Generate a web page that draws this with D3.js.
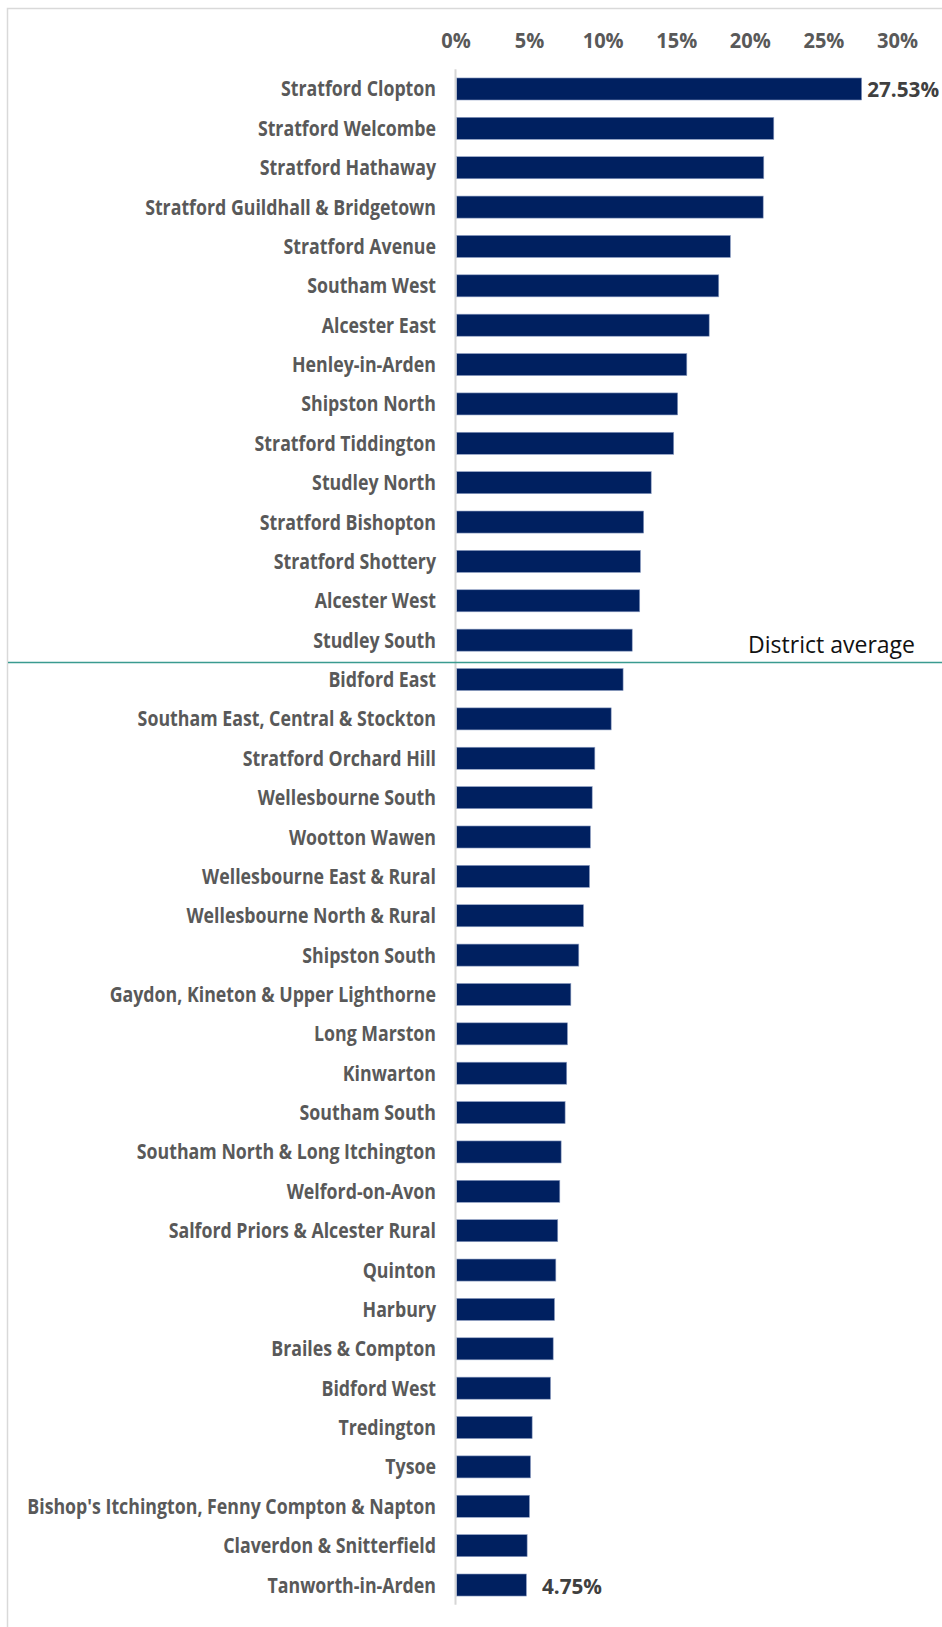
<!DOCTYPE html>
<html>
<head>
<meta charset="utf-8">
<script src="https://cdn.jsdelivr.net/npm/d3@7"></script>
<style>
  html, body { margin: 0; padding: 0; background: #ffffff; }
  svg { display: block; }
</style>
</head>
<body>
<svg id="chart" width="942" height="1627"></svg>
<script>
const categories = [
  "Stratford Clopton", "Stratford Welcombe", "Stratford Hathaway",
  "Stratford Guildhall & Bridgetown", "Stratford Avenue", "Southam West",
  "Alcester East", "Henley-in-Arden", "Shipston North", "Stratford Tiddington",
  "Studley North", "Stratford Bishopton", "Stratford Shottery", "Alcester West",
  "Studley South", "Bidford East", "Southam East, Central & Stockton",
  "Stratford Orchard Hill", "Wellesbourne South", "Wootton Wawen",
  "Wellesbourne East & Rural", "Wellesbourne North & Rural", "Shipston South",
  "Gaydon, Kineton & Upper Lighthorne", "Long Marston", "Kinwarton",
  "Southam South", "Southam North & Long Itchington", "Welford-on-Avon",
  "Salford Priors & Alcester Rural", "Quinton", "Harbury", "Brailes & Compton",
  "Bidford West", "Tredington", "Tysoe",
  "Bishop's Itchington, Fenny Compton & Napton", "Claverdon & Snitterfield",
  "Tanworth-in-Arden"
];
const values = [
  27.53, 21.56, 20.88, 20.84, 18.61, 17.82, 17.17, 15.65, 15.03, 14.76,
  13.23, 12.72, 12.50, 12.45, 11.94, 11.32, 10.51, 9.40, 9.22, 9.10,
  9.04, 8.63, 8.31, 7.77, 7.54, 7.49, 7.38, 7.11, 7.02, 6.88,
  6.75, 6.66, 6.57, 6.39, 5.14, 5.03, 4.96, 4.80, 4.75
];
const tickValues = [0, 5, 10, 15, 20, 25, 30];
const tickLabels = ["0%", "5%", "10%", "15%", "20%", "25%", "30%"];
const labelledCategories = ["Stratford Clopton", "Tanworth-in-Arden"];
const labelledTexts = ["27.53%", "4.75%"];
const districtAverageText = "District average";
const districtAverageAfter = "Studley South";

const data = categories.map((c, i) => ({ name: c, value: values[i] }));

const svg = d3.select("#chart");
const FONT = "'Open Sans', 'Noto Sans', sans-serif";

// chart frame
svg.append("rect")
  .attr("x", 7.5).attr("y", 8.5)
  .attr("width", 1200).attr("height", 2000)
  .attr("fill", "none").attr("stroke", "#d9d9d9").attr("stroke-width", 1.5);

const x = d3.scaleLinear().domain([0, 30]).range([456.5, 898]);
const y = d3.scaleBand().domain(categories)
  .range([69.3, 1604.7]).paddingInner(0.44).paddingOuter(0.22);

// measure text for horizontal compression (reference font is condensed)
function measure(txt, size, weight) {
  const t = svg.append("text").attr("font-family", FONT)
    .attr("font-size", size).attr("font-weight", weight).text(txt);
  const w = t.node().getComputedTextLength();
  t.remove();
  return w;
}
const LABEL_SIZE = 21;
const kLabel = 409 / measure(categories[36], LABEL_SIZE, 700);
const TICK_SIZE = 21.5;
const kTick = 41 / measure(tickLabels[6], TICK_SIZE, 700);
const kData = 72 / measure(labelledTexts[0], LABEL_SIZE, 700);

// bars
svg.append("g").selectAll("rect").data(data).join("rect")
  .attr("x", x(0))
  .attr("y", d => y(d.name))
  .attr("width", d => x(d.value) - x(0))
  .attr("height", y.bandwidth())
  .attr("fill", "#002060")
  .attr("stroke", "#8fa0c4").attr("stroke-width", 0.6);

// vertical axis line
svg.append("line")
  .attr("x1", x(0) - 1).attr("x2", x(0) - 1)
  .attr("y1", y.range()[0]).attr("y2", y.range()[1])
  .attr("stroke", "#d6d6d6").attr("stroke-width", 2);

// top axis
const capH = LABEL_SIZE * 0.714;
const gx = svg.append("g")
  .attr("transform", `translate(-1, 48)`)
  .call(d3.axisTop(x).tickValues(tickValues)
    .tickFormat((d, i) => tickLabels[i]).tickSize(0).tickPadding(0));
gx.select(".domain").remove();
gx.selectAll("text")
  .attr("y", 0).attr("dy", null)
  .attr("font-family", FONT).attr("font-size", TICK_SIZE)
  .attr("font-weight", 700).attr("fill", "#595959")
  .attr("transform", `scale(${kTick},1)`);

// left category axis
const gy = svg.append("g")
  .attr("transform", `translate(${x(0) - 20.5}, 0)`)
  .call(d3.axisLeft(y).tickSize(0).tickPadding(0));
gy.select(".domain").remove();
gy.selectAll("text")
  .attr("x", 0).attr("dy", null).attr("y", capH / 2)
  .attr("text-anchor", "end")
  .attr("font-family", FONT).attr("font-size", LABEL_SIZE)
  .attr("font-weight", 700).attr("fill", "#595959")
  .attr("transform", `scale(${kLabel},1)`);

// data labels
const labelData = labelledCategories.map((c, i) => ({
  name: c, text: labelledTexts[i], value: values[categories.indexOf(c)], idx: i
}));
svg.append("g").selectAll("text").data(labelData).join("text")
  .attr("transform", d => `translate(${x(d.value) + (d.idx === 0 ? 5.5 : 15.5)}, ${y(d.name) + y.bandwidth() / 2 + capH / 2 + 1}) scale(${kData},1)`)
  .attr("font-family", FONT).attr("font-size", LABEL_SIZE)
  .attr("font-weight", 700).attr("fill", "#404040")
  .text(d => d.text);

// district average line
const avgY = y(districtAverageAfter) + y.bandwidth() + (y.step() - y.bandwidth()) * 0.65;
svg.append("line")
  .attr("x1", 8).attr("x2", 942)
  .attr("y1", avgY).attr("y2", avgY)
  .attr("stroke", "#3a9b90").attr("stroke-width", 1.5);
const AVG_SIZE = 23;
const kAvg = 167 / measure(districtAverageText, AVG_SIZE, 400);
svg.append("text")
  .attr("transform", `translate(915, ${avgY - 9}) scale(${kAvg},1)`)
  .attr("text-anchor", "end")
  .attr("font-family", FONT).attr("font-size", AVG_SIZE)
  .attr("font-weight", 400).attr("fill", "#111111")
  .text(districtAverageText);
</script>
</body>
</html>
